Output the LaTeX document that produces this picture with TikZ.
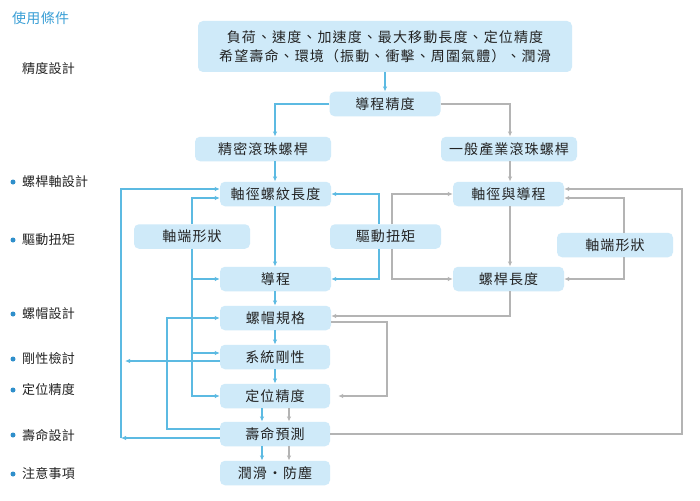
\documentclass[tikz,border=0pt]{standalone}
\usepackage{fontspec}
\setmainfont{Noto Sans CJK TC}
\newfontfamily\boxfnt{Noto Sans CJK TC}[LetterSpace=8]
\newfontfamily\lblfnt{Noto Sans CJK TC}[LetterSpace=2]
\usetikzlibrary{arrows.meta}
\definecolor{boxfill}{HTML}{CFEAF9}
\definecolor{lineblue}{HTML}{5CBAE2}
\definecolor{linegray}{HTML}{B4B4B4}
\definecolor{titleblue}{HTML}{3A9FD6}
\definecolor{dotblue}{HTML}{2F8FCB}
\definecolor{txt}{HTML}{222222}
\begin{document}
\begin{tikzpicture}[x=1pt,y=-1pt,
  box/.style={fill=boxfill, rounded corners=5pt, inner sep=0pt, text=txt,
    font=\boxfnt\fontsize{14pt}{19.5pt}\selectfont, minimum height=24.5pt},
  bl/.style={draw=lineblue, line width=1.1pt, -{Latex[length=5pt,width=4.5pt]}},
  gr/.style={draw=linegray, line width=1.1pt, -{Latex[length=5pt,width=4.5pt]}},
  lbl/.style={anchor=west, inner sep=0pt, text=txt, font=\lblfnt\fontsize{13pt}{16pt}\selectfont},
  dot/.style={circle, fill=dotblue, inner sep=0pt, minimum size=5pt}
]
\fill[white] (0,0) rectangle (700,500);
\useasboundingbox (0,0) rectangle (700,500);

% left labels
\node[anchor=west, inner sep=0pt, text=titleblue, font=\lblfnt\fontsize{14pt}{16pt}\selectfont] (hdr) at (12,18) {使用條件};
\node[lbl] (l0) at (22,69) {精度設計};
\node[dot] (d1) at (13,182) {}; \node[lbl] (l1) at (22,182) {螺桿軸設計};
\node[dot] (d2) at (13,240) {}; \node[lbl] (l2) at (22,240) {驅動扭矩};
\node[dot] (d3) at (13,314) {}; \node[lbl] (l3) at (22,314) {螺帽設計};
\node[dot] (d4) at (13,359) {}; \node[lbl] (l4) at (22,359) {剛性檢討};
\node[dot] (d5) at (13,390) {}; \node[lbl] (l5) at (22,390) {定位精度};
\node[dot] (d6) at (13,435) {}; \node[lbl] (l6) at (22,435) {壽命設計};
\node[dot] (d7) at (13,474) {}; \node[lbl] (l7) at (22,474) {注意事項};

% boxes
\node[box, minimum width=374pt, minimum height=51pt, align=center] (top) at (385,46.5)
  {負荷、速度、加速度、最大移動長度、定位精度\\希望壽命、環境（振動、衝擊、周圍氣體）、潤滑};
\node[box, minimum width=111pt] (lp) at (385,104) {導程精度};
\node[box, minimum width=136pt] (prec) at (263,149) {精密滾珠螺桿};
\node[box, minimum width=136pt] (gen) at (509,149) {一般產業滾珠螺桿};
\node[box, minimum width=111pt] (dia) at (275.5,194) {軸徑螺紋長度};
\node[box, minimum width=111pt] (dial) at (508.5,194) {軸徑與導程};
\node[box, minimum width=116pt] (endL) at (192,236.5) {軸端形狀};
\node[box, minimum width=111pt] (torq) at (385.5,236.5) {驅動扭矩};
\node[box, minimum width=116pt] (endR) at (615,245) {軸端形狀};
\node[box, minimum width=111pt] (lead) at (275.5,279) {導程};
\node[box, minimum width=111pt] (slen) at (508.5,279) {螺桿長度};
\node[box, minimum width=111pt] (nut) at (275.5,318) {螺帽規格};
\node[box, minimum width=110pt] (rig) at (275,357) {系統剛性};
\node[box, minimum width=110pt] (pos) at (275,396) {定位精度};
\node[box, minimum width=110pt] (life) at (275,434) {壽命預測};
\node[box, minimum width=110pt] (lub) at (275,473) {潤滑・防塵};

% helper coordinates
\coordinate (xA) at (275,0);
\coordinate (xB) at (262,0);
\coordinate (xC) at (289,0);
\coordinate (xT) at (379,0);
\coordinate (xG) at (392,0);
\coordinate (xL) at (192,0);
\coordinate (xM) at (167,0);
\coordinate (xO) at (121,0);
\coordinate (xRT) at (125,0);
\coordinate (xR) at (624,0);
\coordinate (xN) at (387,0);
\coordinate (xE) at (682,0);
\coordinate (xD) at (510,0);
\coordinate (diaWu) at ([yshift=5pt]dia.west);
\coordinate (diaWd) at ([yshift=-4pt]dia.west);
\coordinate (dialEu) at ([yshift=5pt]dial.east);
\coordinate (dialEd) at ([yshift=-4pt]dial.east);
\coordinate (rigWu) at ([yshift=4pt]rig.west);
\coordinate (rigWd) at ([yshift=-4pt]rig.west);
\coordinate (lifeWu) at ([yshift=5pt]life.west);
\coordinate (lifeWd) at ([yshift=-4pt]life.west);
\coordinate (nutEu) at ([yshift=2pt]nut.east);
\coordinate (nutEd) at ([yshift=-4pt]nut.east);
\coordinate (posEx) at ([xshift=8pt]pos.east);

% blue connectors
\draw[bl] (top.south) -- (lp.north);
\draw[bl] (lp.west) -| (xA |- prec.north);
\draw[bl] (xA |- prec.south) -- (xA |- dia.north);
\draw[bl] (xA |- dia.south) -- (xA |- lead.north);
\draw[bl] (xA |- lead.south) -- (xA |- nut.north);
\draw[bl] (xA |- nut.south) -- (xA |- rig.north);
\draw[bl] (xA |- rig.south) -- (xA |- pos.north);
\draw[bl] (xB |- pos.south) -- (xB |- life.north);
\draw[bl] (xB |- life.south) -- (xB |- lub.north);
\draw[bl] (xT |- torq.north) |- (dia.east);
\draw[bl] (xT |- torq.south) |- (lead.east);
\draw[bl] (endL.north) |- (diaWd);
\draw[bl] (endL.south) |- (pos.west);
\draw[bl] (xL |- lead.west) -- (lead.west);
\draw[bl] (xL |- rigWu) -- (rigWu);
\draw[bl] (lifeWu) -| (xM |- nut.west) -- (nut.west);
\draw[bl] (lifeWd) -- (xO |- lifeWd);
\draw[bl] (xO |- lifeWd) |- (diaWu);
\draw[bl] (rigWd) -- (xRT |- rigWd);

% gray connectors
\draw[gr] (lp.east) -| (xD |- gen.north);
\draw[gr] (xD |- gen.south) -- (xD |- dial.north);
\draw[gr] (xD |- dial.south) -- (xD |- slen.north);
\draw[gr] (xC |- pos.south) -- (xC |- life.north);
\draw[gr] (xC |- life.south) -- (xC |- lub.north);
\draw[gr] (xG |- torq.north) |- (dial.west);
\draw[gr] (xG |- torq.south) |- (slen.west);
\draw[gr] (xR |- endR.north) |- (dialEd);
\draw[gr] (xR |- endR.south) |- (slen.east);
\draw[gr] (xD |- slen.south) |- (nutEu);
\draw[gr] (nutEd) -| (xN |- pos.east) -- (posEx);
\draw[gr] (life.east) -| (xE |- dialEu) -- (dialEu);
\end{tikzpicture}
\end{document}
